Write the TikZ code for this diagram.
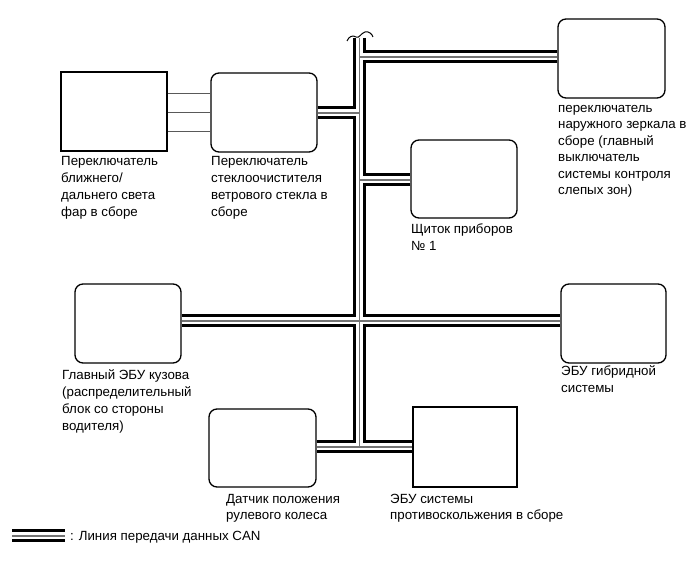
\documentclass[tikz,border=0pt]{standalone}
\usepackage{fontspec}
\setmainfont{Liberation Sans}
\begin{document}
\begin{tikzpicture}[x=1pt,y=-1pt,
  box/.style={draw=black,line width=1.3pt,minimum width=106pt,minimum height=79pt,inner sep=0pt},
  rbox/.style={box,rounded corners=8pt},
  lbl/.style={anchor=base west,align=left,inner sep=0pt,font=\fontsize{13.3}{17}\selectfont},
  canblack/.style={line width=13pt,draw=black},
  canwhite/.style={line width=7pt,draw=white},
  cangray/.style={line width=1.2pt,draw=black!55},
  thinlink/.style={line width=0.9pt,draw=black!65}]
\useasboundingbox (0,0) rectangle (689,561);
\fill[white] (0,0) rectangle (689,561);
% boxes
\node[box] (head) at (114,111.5) {};
\node[rbox] (wiper) at (264,112.5) {};
\node[rbox,minimum width=107pt] (mirror) at (611.5,58.5) {};
\node[rbox,minimum height=78pt] (shch) at (464,179) {};
\node[rbox] (body) at (128,323.5) {};
\node[rbox,minimum width=105pt] (hyb) at (613.5,323.5) {};
\node[rbox,minimum width=107pt,minimum height=78pt] (steer) at (262.5,448) {};
\node[box,minimum width=104pt,minimum height=80pt] (abs) at (465,447) {};
% junction coordinates
\coordinate (ttop) at (359.5,38);
\coordinate (jm) at (359.5,57);
\coordinate (jw) at (359.5,113);
\coordinate (js) at (359.5,180);
\coordinate (jc) at (359.5,321);
\coordinate (jb) at (359.5,447);
\coordinate (legA) at (12,536);
\coordinate (legB) at (65,536);
\def\canpaths{(ttop) -- (jb)
  (mirror.west |- jm) -- (jm)
  (wiper.east |- jw) -- (jw)
  (shch.west |- js) -- (js)
  (body.east |- jc) -- (hyb.west |- jc)
  (steer.east |- jb) -- (abs.west |- jb)
  (legA) -- (legB)}
\draw[canblack] \canpaths;
\draw[canwhite] \canpaths;
\draw[cangray] \canpaths;
% break mark at top of trunk
\draw[line width=1pt] (347,41) .. controls (349,36) and (353,35) .. (356,37)
  .. controls (359,39) and (361,33) .. (365,32) .. controls (369,31) and (372,34) .. (373,37);
% thin links between headlight switch and wiper switch
\coordinate (l1) at (0,93);
\coordinate (l2) at (0,112);
\coordinate (l3) at (0,131);
\draw[thinlink] (head.east |- l1) -- (wiper.west |- l1)
  (head.east |- l2) -- (wiper.west |- l2)
  (head.east |- l3) -- (wiper.west |- l3);
% labels (base = baseline of last line)
\node[lbl] (thead) at (61,217) {Переключатель\\ближнего/\\дальнего света\\фар в сборе};
\node[lbl] (twiper) at (211,217) {Переключатель\\стеклоочистителя\\ветрового стекла в\\сборе};
\node[lbl,font=\fontsize{13.3}{16.5}\selectfont] (tmirror) at (558,195) {переключатель\\наружного зеркала в\\сборе (главный\\выключатель\\системы контроля\\слепых зон)};
\node[lbl] (tshch) at (411,251) {Щиток приборов\\№ 1};
\node[lbl] (tbody) at (62,431) {Главный ЭБУ кузова\\(распределительный\\блок со стороны\\водителя)};
\node[lbl] (thyb) at (561,393) {ЭБУ гибридной\\системы};
\node[lbl] (tsteer) at (226,520) {Датчик положения\\рулевого колеса};
\node[lbl] (tabs) at (390,520) {ЭБУ системы\\противоскольжения в сборе};
\node[lbl] (tleg) at (70,540) {: Линия передачи данных CAN};
\end{tikzpicture}
\end{document}
